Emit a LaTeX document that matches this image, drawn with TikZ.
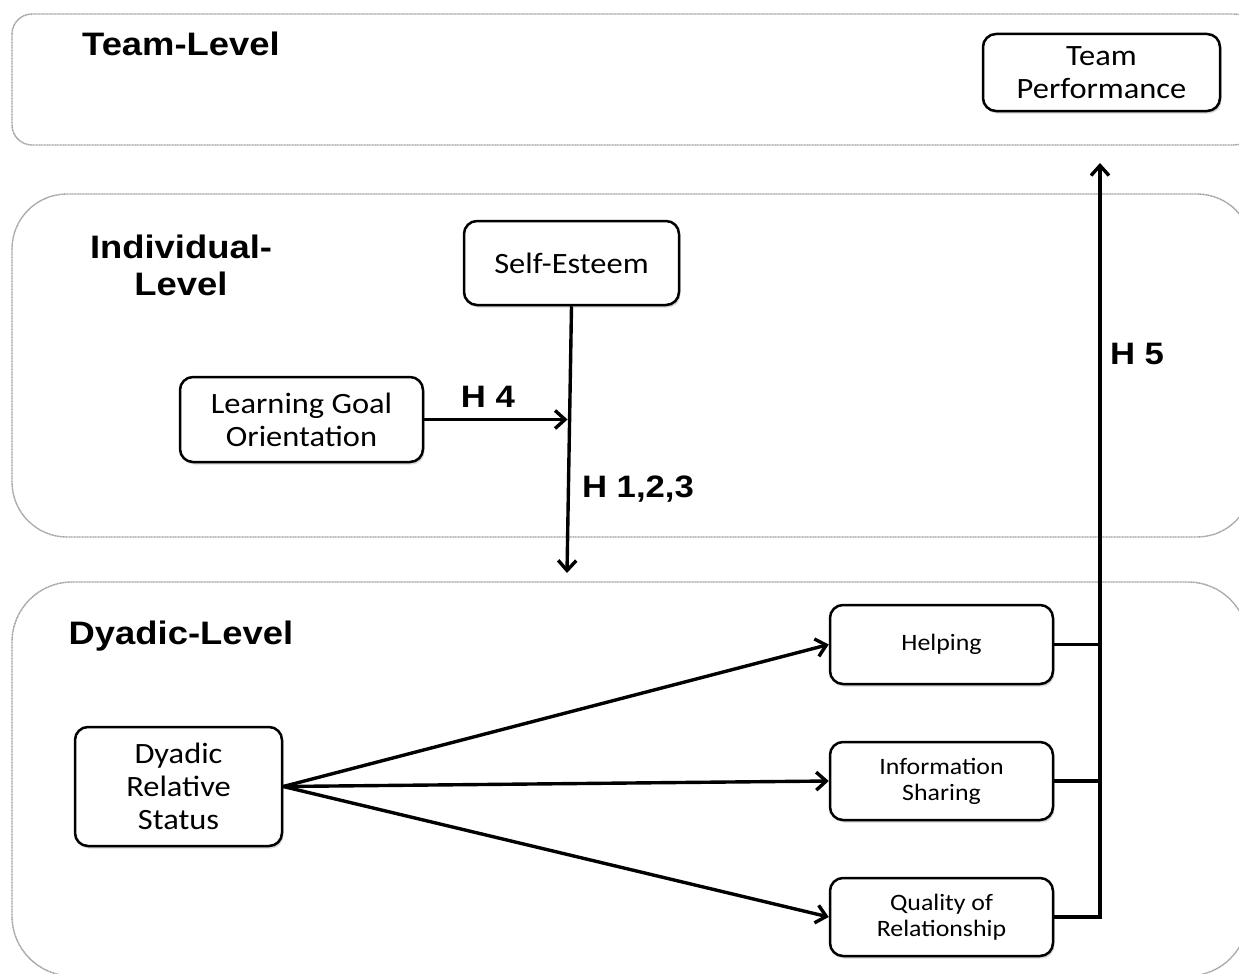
\documentclass[tikz,border=0pt]{standalone}
\usepackage{fontspec}
\setmainfont[FakeStretch=1.1]{Carlito}
\newfontfamily\headfont[FakeStretch=1.12]{Liberation Sans}
\usetikzlibrary{arrows.meta,shadows,calc}

\tikzset{
  panel/.style={draw=gray!75, line width=1.4pt, dash pattern=on 1.1pt off 0.5pt},
  varbox/.style={draw, line width=2.5pt, rounded corners=13pt, fill=white, align=center,
    inner sep=0pt, font=\fontsize{29.5}{33}\selectfont,
    drop shadow={shadow xshift=1.5pt, shadow yshift=-2.5pt, opacity=0.3}},
  smallbox/.style={varbox, font=\fontsize{23.5}{26}\selectfont},
  level/.style={font=\headfont\bfseries\fontsize{32.5}{37}\selectfont, align=center},
  hyp/.style={font=\headfont\bfseries\fontsize{31}{34}\selectfont},
  link/.style={line width=3.4pt, -{Straight Barb[length=10pt, width=18pt, line width=3.4pt]}},
  feed/.style={line width=3.2pt},
}

\begin{document}
\begin{tikzpicture}[x=1pt, y=-1pt]
  \useasboundingbox (0,0) rectangle (1239,974);
  \fill[white] (0,0) rectangle (1239,974);
  \clip (0,0) rectangle (1239,974);

  % level panels
  \draw[panel, rounded corners=20pt] (12,14) rectangle (1254,145);
  \draw[panel, rounded corners=55pt] (12,194) rectangle (1252,537);
  \draw[panel, rounded corners=60pt] (12,582) rectangle (1248,976);

  % panel titles
  \node[level] (tl) at (181,44) {Team-Level};
  \node[level] (il) at (181,265) {Individual-\\Level};
  \node[level] (dl) at (181,636) {Dyadic-Level};

  % constructs
  \node[varbox, minimum width=237pt, minimum height=77pt] (tp) at (1101.5,72.5) {Team\\Performance};
  \node[varbox, minimum width=215pt, minimum height=84pt] (se) at (571.5,263) {Self-Esteem};
  \node[varbox, minimum width=243pt, minimum height=85pt] (lgo) at (301.5,419.5) {Learning Goal\\Orientation};
  \node[varbox, minimum width=207pt, minimum height=119pt] (drs) at (178.5,786.5) {Dyadic\\Relative\\Status};
  \node[smallbox, minimum width=223pt, minimum height=79pt] (help) at (941.5,644.5) {Helping};
  \node[smallbox, minimum width=223pt, minimum height=78pt] (info) at (941.5,781) {Information\\Sharing};
  \node[smallbox, minimum width=223pt, minimum height=78pt] (qual) at (941.5,917) {Quality of\\Relationship};

  % moderation path
  \coordinate (down) at (567,573);
  \draw[link] (se.south) -- (down);
  \coordinate (mod) at ($(se.south)!0.43!(down)$);
  \draw[link, shorten >=2pt] (lgo.east) -- (lgo.east -| mod);

  % dyadic effects
  \draw[link] (drs.east) -- (help.west);
  \draw[link] (drs.east) -- (info.west);
  \draw[link] (drs.east) -- (qual.west);

  % aggregation to team performance
  \coordinate (top) at (1100,163);
  \draw[feed] (help.east) -- (help.east -| top);
  \draw[feed] (info.east) -- (info.east -| top);
  \draw[link, line width=4.2pt] (qual.east) -| (top);

  % hypothesis labels
  \node[hyp] (h4) at (488,397) {H 4};
  \node[hyp] (h123) at (638,489) {H 1,2,3};
  \node[hyp] (h5) at (1137,354) {H 5};
\end{tikzpicture}
\end{document}
